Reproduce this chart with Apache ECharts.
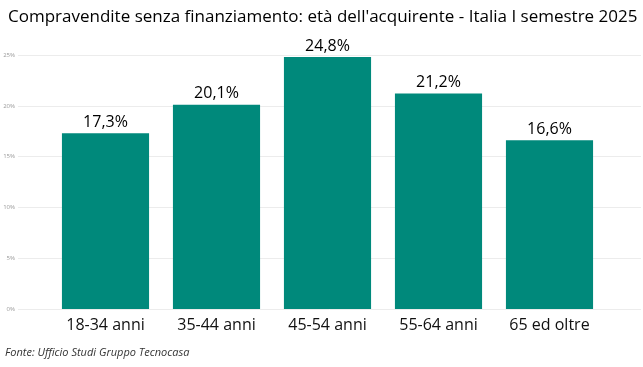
<!DOCTYPE html>
<html><head><meta charset="utf-8">
<script src="https://cdn.jsdelivr.net/npm/echarts@6/dist/echarts.min.js"></script>
<style>html,body{margin:0;padding:0;background:#fff}#c{width:643px;height:367px}</style>
</head><body><div id="c"></div>
<script>
const categories = ['18-34 anni','35-44 anni','45-54 anni','55-64 anni','65 ed oltre'];
const values = [17.3, 20.1, 24.8, 21.2, 16.6];
const yTicks = [0, 5, 10, 15, 20, 25];
const chart = echarts.init(document.getElementById('c'));
const font = '"Open Sans", "Noto Sans", sans-serif';
chart.setOption({
  animation: false,
  title: [{
    text: "Compravendite senza finanziamento: età dell'acquirente - Italia I semestre 2025",
    left: 3, top: 4,
    textStyle: {fontFamily: font, fontSize: 17, fontWeight: 'normal', color: '#000'}
  }, {
    text: 'Fonte: Ufficio Studi Gruppo Tecnocasa',
    left: 0, top: 342,
    textStyle: {fontFamily: font, fontSize: 11, fontStyle: 'italic', fontWeight: 'normal', color: '#333'}
  }],
  grid: [
    {left: 50, right: 38, top: 55, bottom: 58},
    {left: 18, right: 2, top: 55, bottom: 58}
  ],
  xAxis: [
    {type: 'category', data: categories, gridIndex: 0,
     axisLine: {show: false}, axisTick: {show: false},
     axisLabel: {fontFamily: font, fontSize: 16, color: '#111', margin: 8}},
    {type: 'category', data: categories, gridIndex: 1, show: false}
  ],
  yAxis: [
    {type: 'value', gridIndex: 0, min: 0, max: 25, interval: 5, show: false},
    {type: 'value', gridIndex: 1, min: 0, max: 25, interval: 5,
     axisLine: {show: false}, axisTick: {show: false},
     splitLine: {lineStyle: {color: '#ececec', width: 1}},
     axisLabel: {formatter: v => yTicks.includes(v) ? v + '%' : '', fontFamily: font, fontSize: 6, color: '#999', margin: 3}}
  ],
  series: [{
    type: 'bar', data: values, xAxisIndex: 0, yAxisIndex: 0,
    barCategoryGap: '21.5%',
    itemStyle: {color: '#00897B'},
    label: {show: true, position: 'top', distance: 3,
      formatter: p => p.value.toFixed(1).replace('.', ',') + '%',
      fontFamily: font, fontSize: 16, color: '#000'}
  }]
});
</script></body></html>
